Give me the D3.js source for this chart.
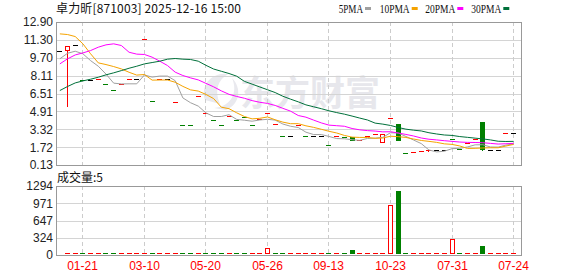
<!DOCTYPE html>
<html><head><meta charset="utf-8">
<script src="https://cdn.jsdelivr.net/npm/d3@7/dist/d3.min.js"></script>
<style>html,body{margin:0;padding:0;background:#fff;}svg{display:block;}</style>
</head><body>
<svg id="c" width="578" height="276"></svg>
<script>
// ---------- data ----------
const title = "卓力昕[871003] 2025-12-16 15:00";
const volTitle = "成交量";
const tickIndex = [3, 11, 19, 27, 35, 43, 51, 59];
const tickLabels = ["01-21", "03-10", "05-20", "05-26", "09-13", "10-23", "07-31", "07-24"];
const priceTicks = [12.90, 11.30, 9.70, 8.11, 6.51, 4.91, 3.32, 1.72, 0.13];
const volTicks = [1294, 971, 647, 324, 0];
const legendNames = ["5PMA", "10PMA", "20PMA", "30PMA"];

const closes = [10.24,10.80,10.80,7.70,7.70,7.74,7.32,6.76,7.32,7.74,
  7.74,11.31,5.80,7.74,7.74,5.71,3.63,3.63,6.22,4.73,
  4.08,3.63,4.46,4.08,4.40,3.63,4.17,4.76,3.72,2.65,
  2.65,3.63,2.65,2.65,2.65,1.84,2.65,2.56,2.25,2.34,
  2.68,2.83,2.92,4.28,2.25,1.13,1.22,1.34,1.42,1.40,
  1.40,2.38,1.49,2.02,2.38,1.43,1.40,1.40,2.92,2.92];
const opens = [10.24,10.33,10.80,7.70,7.70,7.74,7.32,6.76,7.32,7.74,
  7.74,11.31,5.80,7.74,7.74,5.71,3.63,3.63,6.22,4.73,
  4.08,3.63,4.46,4.08,4.40,3.63,4.17,4.76,3.72,2.65,
  2.65,3.63,2.65,2.65,2.65,1.84,2.65,2.56,2.61,2.34,
  2.68,2.83,2.08,4.28,3.75,1.13,1.22,1.34,1.42,1.40,
  1.40,2.38,1.49,2.02,2.38,3.93,1.40,1.40,2.92,2.92];
const highs = [10.24,10.80,10.80,7.70,7.70,7.74,7.32,6.76,7.32,7.74,
  7.74,11.31,5.80,7.74,7.74,5.71,3.63,3.63,6.22,4.73,
  4.08,3.63,4.46,4.08,4.40,3.63,4.17,4.76,3.72,2.65,
  2.65,3.63,2.65,2.65,2.65,1.84,2.65,2.56,2.61,2.34,
  2.68,2.83,2.92,4.28,3.75,1.13,1.22,1.34,1.42,1.40,
  1.40,2.38,1.49,2.02,2.38,3.93,1.40,1.40,2.92,2.92];
const lows = [10.24,5.29,10.80,7.70,7.70,7.74,7.32,6.76,7.32,7.74,
  7.74,11.31,5.80,7.74,7.74,5.71,3.63,3.63,6.22,4.73,
  4.08,3.63,4.46,4.08,4.40,3.63,4.17,4.76,3.72,2.65,
  2.65,3.63,2.65,2.65,2.65,1.84,2.65,2.56,2.25,2.34,
  2.68,2.83,2.08,4.28,2.25,1.13,1.22,1.34,1.27,1.40,
  1.40,2.38,1.49,2.02,2.38,1.34,1.40,1.40,2.92,2.92];
// candle direction: 1 up (red), -1 down (green), 0 flat (black)
const candleDir = [0,1,0,-1,0,1,-1,-1,1,1,
  0,1,-1,1,0,1,-1,-1,1,1,
  -1,-1,1,-1,-1,-1,1,1,1,-1,
  0,1,-1,0,0,-1,1,-1,-1,1,
  1,1,1,1,-1,-1,1,1,1,0,
  0,-1,-1,1,1,-1,0,0,1,0];
const volumes = [0,12,3,6,2,4,5,3,8,2,
  4,6,9,3,2,5,7,4,6,3,
  5,2,8,4,3,6,5,132,7,4,
  2,10,3,2,4,6,3,8,89,9,
  38,45,12,930,1200,15,6,4,10,3,
  2,296,8,6,10,164,3,2,9,5];
const volDir = [1,1,1,-1,1,1,-1,-1,1,1,
  1,1,-1,1,1,1,-1,-1,1,-1,
  -1,-1,1,-1,-1,1,1,1,-1,-1,
  1,1,1,1,1,-1,1,-1,-1,1,
  1,1,1,1,-1,-1,1,1,1,1,
  1,1,-1,1,1,-1,1,1,1,1];
const ma5 = [9.61,10.11,10.29,10.06,9.45,8.95,8.25,7.44,7.37,7.38,
  7.38,8.17,7.98,8.07,8.07,7.66,6.12,5.69,5.39,4.78,
  4.46,4.46,4.62,4.20,4.13,4.04,4.15,4.21,4.14,3.79,
  3.59,3.48,3.06,2.85,2.85,2.68,2.49,2.47,2.39,2.33,
  2.50,2.53,2.60,3.01,2.99,2.68,2.36,2.04,1.47,1.30,
  1.36,1.59,1.62,1.74,1.93,1.94,1.74,1.73,1.91,2.01];
const ma10 = [11.84,11.78,11.60,10.95,10.06,9.25,9.10,8.92,8.71,8.41,
  8.16,8.21,7.71,7.72,7.72,7.52,7.15,6.84,6.73,6.43,
  6.06,5.29,5.16,4.79,4.46,4.25,4.30,4.42,4.17,3.96,
  3.82,3.82,3.63,3.49,3.32,3.14,2.99,2.77,2.62,2.59,
  2.59,2.51,2.54,2.70,2.66,2.59,2.45,2.32,2.24,2.15,
  2.02,1.97,1.83,1.61,1.62,1.65,1.67,1.67,1.82,1.97];
const ma20 = [9.16,9.61,9.96,10.14,10.35,10.65,10.86,10.95,10.80,10.20,
  10.03,10.00,9.76,9.40,9.01,8.42,8.12,7.91,7.73,7.42,
  7.11,6.75,6.44,6.25,6.09,5.88,5.73,5.63,5.45,5.19,
  4.94,4.55,4.40,4.14,3.89,3.69,3.64,3.59,3.39,3.27,
  3.20,3.16,3.09,3.10,2.99,2.86,2.72,2.54,2.43,2.37,
  2.30,2.24,2.18,2.15,2.14,2.12,2.06,2.00,2.03,2.06];
const ma30 = [6.78,7.14,7.46,7.64,7.79,7.97,8.18,8.36,8.56,8.77,
  8.95,9.16,9.28,9.40,9.58,9.64,9.58,9.55,9.40,9.03,
  8.70,8.50,8.30,8.06,7.60,7.35,7.10,6.85,6.60,6.27,
  6.01,5.77,5.50,5.33,5.16,4.97,4.81,4.67,4.50,4.32,
  4.15,3.87,3.78,3.66,3.48,3.33,3.24,3.17,3.01,2.90,
  2.81,2.77,2.67,2.60,2.53,2.46,2.37,2.25,2.23,2.24];

// ---------- styles ----------
const RED = "#ff0000", GREEN = "#008000", BLACK = "#000000";
const maColors = ["#a0a0a0", "#f5a300", "#ff00ff", "#00703a"];
const NUMFONT = "'Liberation Sans', Arial, sans-serif";
const CJKFONT = "'Noto Sans CJK SC', sans-serif";

const svg = d3.select("#c");
const n = closes.length;
const P = {l: 56, r: 522, t: 22, b: 165};
const V = {t: 186, b: 255};

const x = d3.scaleBand().domain(d3.range(n)).range([P.l, P.l + n * 7.69]).padding(0);
const cx = i => x(i) + x.bandwidth() / 2;
const bodyLeft = i => Math.round(cx(i) - 2.5);
const y = d3.scaleLinear().domain([0.13, 12.90]).range([P.b, P.t]);
const yv = d3.scaleLinear().domain([0, 1294]).range([V.b, V.t]);

// watermark
svg.append("text").attr("x", 240).attr("y", 106)
  .attr("font-family", CJKFONT).attr("font-weight", "bold").attr("font-size", 35)
  .attr("fill", "#e7e7ec").text("东方财富");
svg.append("path")
  .attr("d", "M205,100 C200,85 212,72 228,74 C218,80 214,90 220,104 Z M214,108 C232,106 238,92 232,78 C242,88 240,104 226,110 Z")
  .attr("fill", "#e9e9ee");

// gridlines
function hgrid(scale, ticks, x0, x1) {
  svg.append("g").selectAll("line").data(ticks).join("line")
    .attr("x1", x0).attr("x2", x1)
    .attr("y1", d => Math.round(scale(d)) + 0.5).attr("y2", d => Math.round(scale(d)) + 0.5)
    .attr("stroke", "#d4d4d4").attr("stroke-width", 1);
}
hgrid(y, priceTicks, P.l, P.r);
hgrid(yv, volTicks, P.l, P.r);
function vgrid(t, b) {
  svg.append("g").selectAll("line").data(tickIndex).join("line")
    .attr("x1", d => Math.floor(cx(d)) + 0.5).attr("x2", d => Math.floor(cx(d)) + 0.5)
    .attr("y1", t).attr("y2", b)
    .attr("stroke", "#cccccc").attr("stroke-dasharray", "4,3");
}
vgrid(P.t, P.b);
vgrid(V.t, V.b);

// candles
const cg = svg.append("g");
d3.range(n).forEach(i => {
  const o = opens[i], c = closes[i], h = highs[i], lo = lows[i], d = candleDir[i];
  const col = d > 0 ? RED : d < 0 ? GREEN : BLACK;
  const L = bodyLeft(i);
  const mid = L + 2.5;
  const yTop = Math.round(y(Math.max(o, c)));
  const yBot = Math.round(y(Math.min(o, c)));
  const yH = Math.round(y(h)), yL = Math.round(y(lo));
  if (yH < yTop) cg.append("line").attr("x1", mid).attr("x2", mid).attr("y1", yH).attr("y2", yTop).attr("stroke", col);
  if (yL > yBot) cg.append("line").attr("x1", mid).attr("x2", mid).attr("y1", yBot).attr("y2", yL).attr("stroke", col);
  if (yBot - yTop < 2) {
    cg.append("rect").attr("x", L).attr("y", Math.floor(y(c))).attr("width", 5).attr("height", 1).attr("fill", col);
  } else if (d > 0) {
    cg.append("rect").attr("x", L + 0.5).attr("y", yTop + 0.5).attr("width", 4).attr("height", yBot - yTop - 1)
      .attr("fill", "#fff").attr("stroke", col);
  } else {
    cg.append("rect").attr("x", L).attr("y", yTop).attr("width", 5).attr("height", yBot - yTop).attr("fill", col);
  }
});

// moving averages
[ma5, ma10, ma20, ma30].forEach((arr, k) => {
  svg.append("path").datum(arr)
    .attr("d", d3.line().x((v, i) => cx(i)).y(v => y(v)))
    .attr("fill", "none").attr("stroke", maColors[k]).attr("stroke-width", 1);
});

// volume bars
const vg = svg.append("g");
d3.range(n).forEach(i => {
  const v = volumes[i];
  if (!v) return;
  const col = volDir[i] > 0 ? RED : GREEN;
  const L = bodyLeft(i);
  const top = Math.round(yv(v));
  const hgt = V.b - 1 - top;
  if (hgt < 3) {
    vg.append("rect").attr("x", L).attr("y", Math.min(top, V.b - 2)).attr("width", 5)
      .attr("height", Math.max(1, V.b - 1 - Math.min(top, V.b - 2))).attr("fill", col);
  } else if (volDir[i] > 0) {
    vg.append("rect").attr("x", L + 0.5).attr("y", top + 0.5).attr("width", 4).attr("height", hgt - 1)
      .attr("fill", "#fff").attr("stroke", col);
  } else {
    vg.append("rect").attr("x", L).attr("y", top).attr("width", 5).attr("height", hgt).attr("fill", col);
  }
});

// frames
svg.append("rect").attr("x", P.l + 0.5).attr("y", P.t + 0.5).attr("width", P.r - P.l - 1).attr("height", P.b - P.t)
  .attr("fill", "none").attr("stroke", "#999");
svg.append("rect").attr("x", P.l + 0.5).attr("y", V.t + 0.5).attr("width", P.r - P.l - 1).attr("height", V.b - V.t)
  .attr("fill", "none").attr("stroke", "#999");

// axes labels
const yAxis = d3.axisLeft(y).tickValues(priceTicks).tickFormat(d3.format(".2f")).tickSize(0).tickPadding(3);
const ga = svg.append("g").attr("transform", `translate(${P.l},0)`).call(yAxis);
ga.select(".domain").remove();
ga.selectAll("text").attr("font-family", NUMFONT).attr("font-size", 12).attr("fill", "#222");
const vAxis = d3.axisLeft(yv).tickValues(volTicks).tickFormat(d3.format("d")).tickSize(0).tickPadding(3);
const gv = svg.append("g").attr("transform", `translate(${P.l},0)`).call(vAxis);
gv.select(".domain").remove();
gv.selectAll("text").attr("font-family", NUMFONT).attr("font-size", 12).attr("fill", "#222");

svg.append("g").selectAll("text").data(tickIndex).join("text")
  .attr("x", d => Math.floor(cx(d)) + 0.5).attr("y", 270)
  .attr("text-anchor", "middle").attr("font-family", NUMFONT).attr("font-size", 12)
  .attr("fill", RED).text((d, k) => tickLabels[k]);

// titles
svg.append("text").attr("x", 56).attr("y", 13).attr("font-family", CJKFONT).attr("font-size", 12)
  .attr("fill", "#111").attr("textLength", 185).attr("lengthAdjust", "spacing").text(title);
svg.append("text").attr("x", 57).attr("y", 182).attr("font-family", CJKFONT).attr("font-size", 12)
  .attr("fill", "#111").text(volTitle + ":" + volumes[n - 1]);

// legend
const legX = [338.7, 379.7, 425.3, 471.3];
const legW = [24.3, 30, 30, 30];
legendNames.forEach((name, k) => {
  svg.append("text").attr("x", legX[k]).attr("y", 13)
    .attr("font-family", "'Liberation Serif', serif").attr("font-size", 13)
    .attr("textLength", legW[k]).attr("lengthAdjust", "spacingAndGlyphs")
    .attr("fill", "#111").text(name);
  svg.append("rect").attr("x", legX[k] + legW[k] + 2).attr("y", 7).attr("width", 6).attr("height", 3)
    .attr("fill", maColors[k]);
});
</script>
</body></html>
